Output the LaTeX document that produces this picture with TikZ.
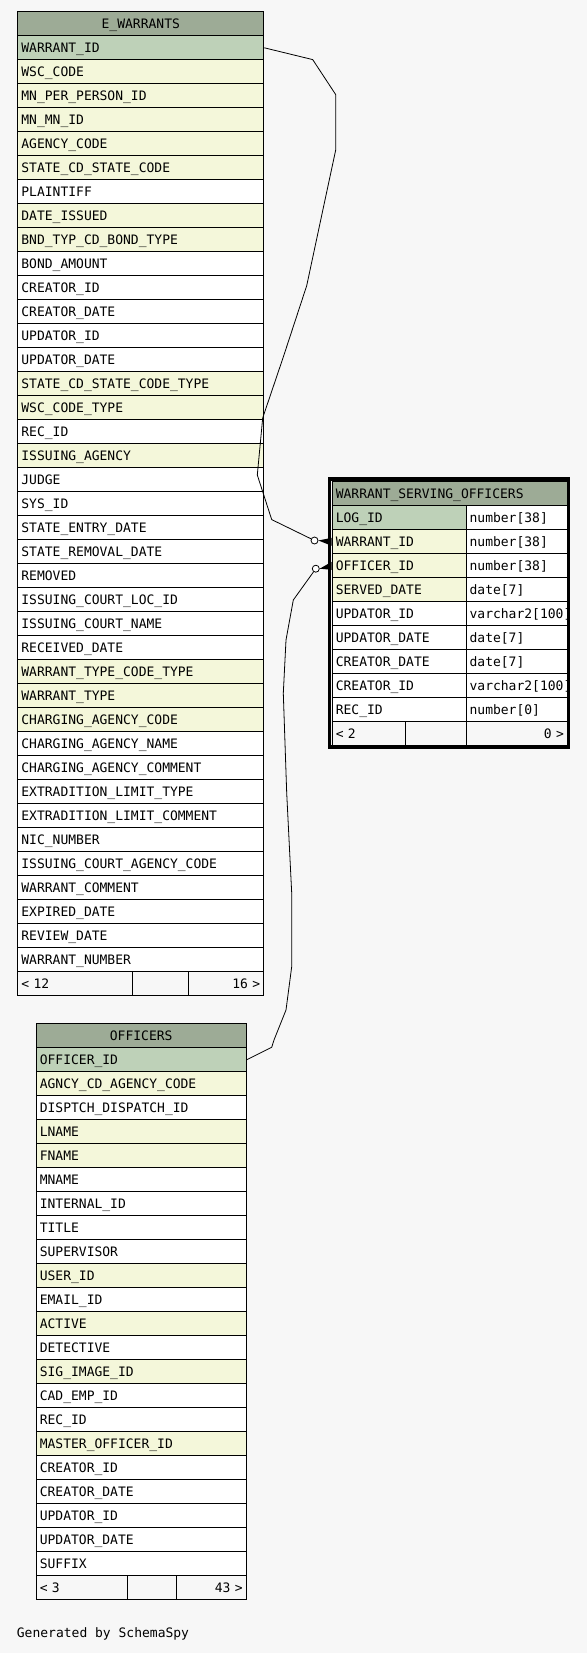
\documentclass[tikz,border=0pt]{standalone}
\usepackage{fontspec}
\newfontfamily\erfont{DejaVu Sans Mono}[Scale=1.0]
\definecolor{bgc}{HTML}{F7F7F7}
\definecolor{hdr}{HTML}{9DAB96}
\definecolor{pk}{HTML}{BED1B8}
\definecolor{fk}{HTML}{F4F7DA}
\definecolor{wh}{HTML}{FFFFFF}
\tikzset{
  cell/.style={draw=black, line width=1pt, minimum height=24pt, inner xsep=3.6pt, inner ysep=0pt,
    anchor=north west, align=left, font=\erfont\fontsize{13}{13}\selectfont, text height=9.3pt, text depth=0pt},
  conn/.style={draw=black, line width=0.8pt},
  odot/.style={circle, draw=black, fill=white, line width=0.8pt, minimum size=7pt, inner sep=0pt},
  crow/.style={fill=black},
  frame/.style={draw=black, line width=3.8pt}
}
\begin{document}
\begin{tikzpicture}[x=1pt,y=-1pt]
\fill[bgc] (0,0) rectangle (587,1653);
% ---------------- E_WARRANTS
\node[cell, fill=hdr, text width=238.8pt, align=center] (ewhead) at (17.3,11.3) {E\_WARRANTS};
\foreach \t/\c [count=\i] in {
 WARRANT\_ID/pk, WSC\_CODE/fk, MN\_PER\_PERSON\_ID/fk, MN\_MN\_ID/fk, AGENCY\_CODE/fk,
 STATE\_CD\_STATE\_CODE/fk, PLAINTIFF/wh, DATE\_ISSUED/fk, BND\_TYP\_CD\_BOND\_TYPE/fk,
 BOND\_AMOUNT/wh, CREATOR\_ID/wh, CREATOR\_DATE/wh, UPDATOR\_ID/wh, UPDATOR\_DATE/wh,
 STATE\_CD\_STATE\_CODE\_TYPE/fk, WSC\_CODE\_TYPE/fk, REC\_ID/wh, ISSUING\_AGENCY/fk,
 JUDGE/wh, SYS\_ID/wh, STATE\_ENTRY\_DATE/wh, STATE\_REMOVAL\_DATE/wh, REMOVED/wh,
 ISSUING\_COURT\_LOC\_ID/wh, ISSUING\_COURT\_NAME/wh, RECEIVED\_DATE/wh,
 WARRANT\_TYPE\_CODE\_TYPE/fk, WARRANT\_TYPE/fk, CHARGING\_AGENCY\_CODE/fk,
 CHARGING\_AGENCY\_NAME/wh, CHARGING\_AGENCY\_COMMENT/wh, EXTRADITION\_LIMIT\_TYPE/wh,
 EXTRADITION\_LIMIT\_COMMENT/wh, NIC\_NUMBER/wh, ISSUING\_COURT\_AGENCY\_CODE/wh,
 WARRANT\_COMMENT/wh, EXPIRED\_DATE/wh, REVIEW\_DATE/wh, WARRANT\_NUMBER/wh} {
  \node[cell, fill=\c, text width=238.8pt] (ew\i) at (17.3,{11.3+24*\i}) {\t};
}
\node[cell, fill=bgc, text width=107.2pt] (ewf1) at (17.3,971.3) {< 12};
\node[cell, fill=bgc, text width=48.8pt] (ewf2) at (131.7,971.3) {};
\node[cell, fill=bgc, text width=68.4pt, align=right] (ewf3) at (187.7,971.3) {16 >};
% ---------------- OFFICERS
\node[cell, fill=hdr, text width=202.8pt, align=center] (offhead) at (35.7,1023.3) {OFFICERS};
\foreach \t/\c [count=\i] in {
 OFFICER\_ID/pk, AGNCY\_CD\_AGENCY\_CODE/fk, DISPTCH\_DISPATCH\_ID/wh, LNAME/fk, FNAME/fk,
 MNAME/wh, INTERNAL\_ID/wh, TITLE/wh, SUPERVISOR/wh, USER\_ID/fk, EMAIL\_ID/wh, ACTIVE/fk,
 DETECTIVE/wh, SIG\_IMAGE\_ID/fk, CAD\_EMP\_ID/wh, REC\_ID/wh, MASTER\_OFFICER\_ID/fk,
 CREATOR\_ID/wh, CREATOR\_DATE/wh, UPDATOR\_ID/wh, UPDATOR\_DATE/wh, SUFFIX/wh} {
  \node[cell, fill=\c, text width=202.8pt] (off\i) at (35.7,{1023.3+24*\i}) {\t};
}
\node[cell, fill=bgc, text width=84.4pt] (offf1) at (35.7,1575.3) {< 3};
\node[cell, fill=bgc, text width=41.2pt] (offf2) at (127.3,1575.3) {};
\node[cell, fill=bgc, text width=62.8pt, align=right] (offf3) at (175.7,1575.3) {43 >};
% ---------------- WARRANT_SERVING_OFFICERS
\node[cell, fill=hdr, text width=228.1pt] (wsohead) at (331.7,481.3) {WARRANT\_SERVING\_OFFICERS};
\foreach \t/\y/\c [count=\i] in {
 LOG\_ID/number[38]/pk, WARRANT\_ID/number[38]/fk, OFFICER\_ID/number[38]/fk,
 SERVED\_DATE/date[7]/fk, UPDATOR\_ID/varchar2[100]/wh, UPDATOR\_DATE/date[7]/wh,
 CREATOR\_DATE/date[7]/wh, CREATOR\_ID/varchar2[100]/wh, REC\_ID/number[0]/wh} {
  \node[cell, fill=\c, text width=126.6pt] (wsoN\i) at (331.7,{481.3+24*\i}) {\t};
  \node[cell, fill=wh, text width=94.3pt] (wsoT\i) at (465.5,{481.3+24*\i}) {\y};
}
\node[cell, fill=bgc, text width=66.1pt] (wsof1) at (331.7,721.3) {< 2};
\node[cell, fill=bgc, text width=53.3pt] (wsof2) at (405,721.3) {};
\node[cell, fill=bgc, text width=94.3pt, align=right] (wsof3) at (465.5,721.3) {0 >};
% ---------------- connectors
\node[odot] (o1) at (314.5,540.5) {};
\node[odot] (o2) at (315.8,568.7) {};
\draw[conn] (ew1.east) -- (312.7,59.6) -- (335.7,94.6) -- (335.7,150) -- (322.7,210.7)
  -- (306.7,285.7) -- (283.3,357) -- (262.7,417.9) -- (257.3,475) -- (271.7,519.6) -- (o1);
\draw[conn] (off1.east) -- (271.7,1047.3) -- (274,1040) -- (286,1010) -- (291.7,966.7)
  -- (291.7,893) -- (286.7,793) -- (283.3,693.3) -- (286,640) -- (293.3,600) -- (o2);
\fill[crow] (o1.east) -- ([yshift=4pt]wsoN2.west) -- ([yshift=-4pt]wsoN2.west) -- cycle;
\fill[crow] (o2.east) -- ([yshift=4pt]wsoN3.west) -- ([yshift=-4pt]wsoN3.west) -- cycle;
\draw[frame] (329.4,479.3) rectangle (568.4,746.8);
% ---------------- footer text
\node[anchor=west, inner sep=0pt, font=\erfont\fontsize{13}{13}\selectfont] (gen) at (16.7,1634) {Generated by SchemaSpy};
\end{tikzpicture}
\end{document}
